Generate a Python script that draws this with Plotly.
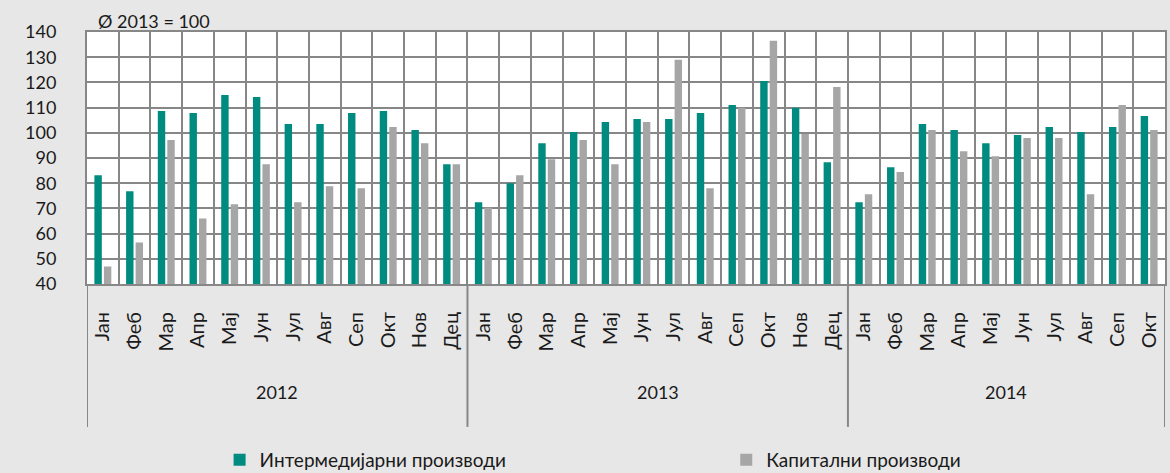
import plotly.graph_objects as go

# Index, average 2013 = 100
YEARS = ["2012", "2013", "2014"]
MONTHS_PER_YEAR = [12, 12, 10]
MONTHS = ["Јан", "Феб", "Мар", "Апр", "Мај", "Јун", "Јул", "Авг", "Сеп", "Окт", "Нов", "Дец"]

intermediate = [
    83.2, 76.8, 108.7, 107.9, 115.0, 114.2, 103.5, 103.5, 107.9, 108.7, 101.1, 87.5,
    72.4, 80.0, 95.9, 100.3, 104.3, 105.5, 105.5, 107.9, 111.0, 120.6, 109.9, 88.3,
    72.4, 86.3, 103.5, 101.1, 95.9, 99.1, 102.3, 100.3, 102.3, 106.7,
]
capital = [
    46.9, 56.5, 97.1, 66.0, 71.6, 87.5, 72.4, 78.8, 78.0, 102.3, 95.9, 87.5,
    70.3, 83.2, 89.5, 97.1, 87.5, 104.3, 129.0, 78.0, 109.9, 136.5, 99.5, 118.2,
    75.6, 84.4, 101.1, 92.7, 90.7, 97.9, 97.9, 75.6, 111.0, 101.1,
]

TEAL = "#008B80"
GRAY = "#A6A6A6"
GRID = "#878787"
BG = "#E7E7E7"
FONT = "Lato"
TXT = "#1a1a1a"

month_labels = []
for n in MONTHS_PER_YEAR:
    month_labels += MONTHS[:n]
xs = list(range(len(month_labels)))

fig = go.Figure()
fig.add_trace(go.Bar(x=xs, y=intermediate, name="Интермедијарни производи",
                     marker=dict(color=TEAL, line=dict(width=0)), legend="legend"))
fig.add_trace(go.Bar(x=xs, y=capital, name="Капитални производи",
                     marker=dict(color=GRAY, line=dict(width=0)), legend="legend2"))

# year labels and the dividers between years
start = 0
bounds = [-0.5]
for year, n in zip(YEARS, MONTHS_PER_YEAR):
    fig.add_annotation(x=start + (n - 1) / 2, y=-0.43, xref="x", yref="paper",
                       text=year, showarrow=False, yanchor="middle",
                       font=dict(family=FONT, size=18, color=TXT))
    start += n
    bounds.append(start - 0.5)
for b in bounds:
    fig.add_shape(type="line", xref="x", yref="paper", x0=b, x1=b, y0=0, y1=-0.567,
                  line=dict(color=GRID, width=2))

fig.add_annotation(x=0.008, y=1.042, xref="paper", yref="paper", text="Ø 2013 = 100",
                   showarrow=False, xanchor="left", yanchor="middle",
                   font=dict(family=FONT, size=18, color=TXT))

legend_style = dict(orientation="h", xanchor="left", y=-0.698, yanchor="middle",
                    font=dict(family=FONT, size=19, color=TXT),
                    bgcolor="rgba(0,0,0,0)")
fig.update_layout(
    width=1170, height=473,
    paper_bgcolor=BG, plot_bgcolor="white",
    margin=dict(l=87, r=5, t=32, b=189, autoexpand=False),
    barmode="group", bargap=0.4, bargroupgap=0.22,
    font=dict(family=FONT, size=18, color=TXT),
    showlegend=True,
    legend=dict(x=0.123, **legend_style),
    legend2=dict(x=0.593, **legend_style),
)
fig.update_xaxes(
    range=[-0.5, len(xs) - 0.5], tickmode="array", tickvals=xs, ticktext=month_labels,
    tickangle=-90, showgrid=False, zeroline=False,
    showline=True, linecolor=GRID, linewidth=2, mirror=True,
    minor=dict(tickmode="linear", tick0=-0.5, dtick=1, showgrid=True,
               gridcolor=GRID, gridwidth=2),
    ticklabelstandoff=18,
    tickfont=dict(family=FONT, size=20, color=TXT),
)
fig.update_yaxes(
    range=[40, 140], tickmode="linear", tick0=40, dtick=10,
    showgrid=True, gridcolor=GRID, gridwidth=2, zeroline=False,
    showline=True, linecolor=GRID, linewidth=2, mirror=True,
    ticks="", ticklabelstandoff=25,
    tickfont=dict(family=FONT, size=18, color=TXT),
)

fig.write_html("out.html", config={"displayModeBar": False},
               post_script="document.body.style.margin='0px';")
